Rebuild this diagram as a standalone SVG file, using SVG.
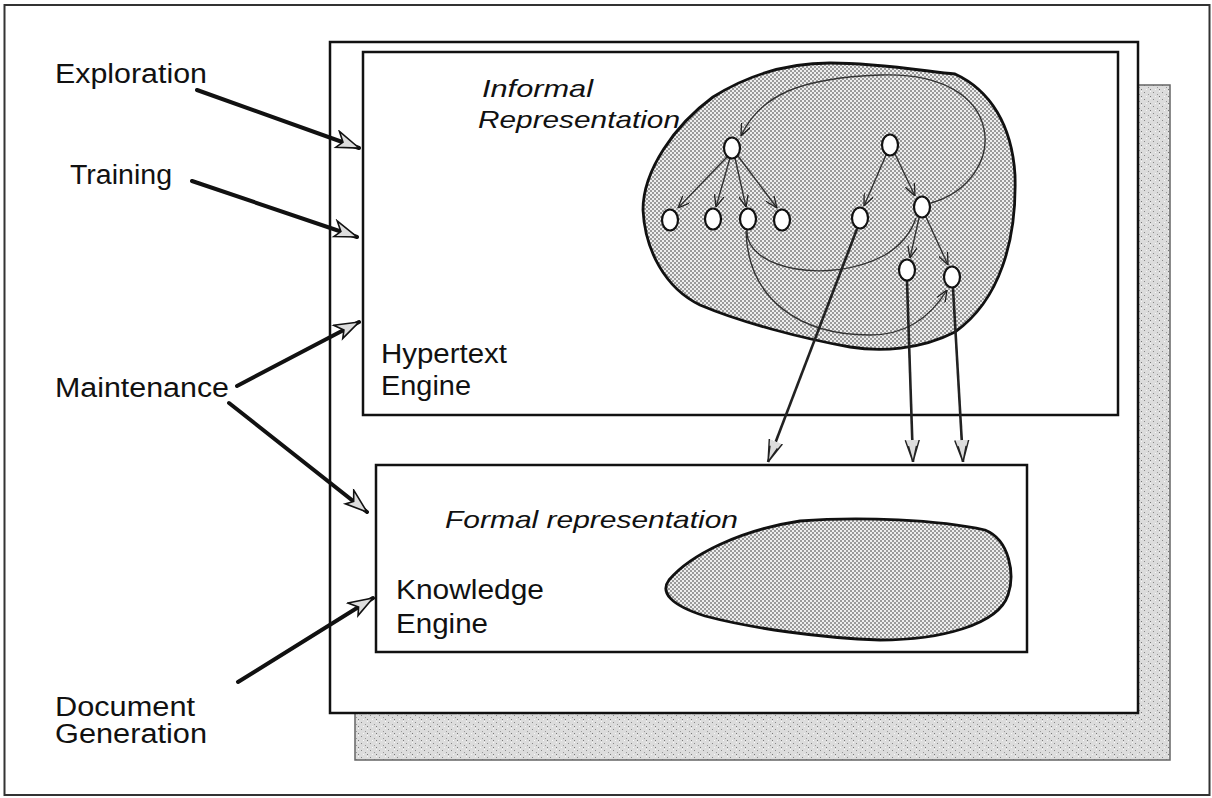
<svg xmlns="http://www.w3.org/2000/svg" width="1212" height="798" viewBox="0 0 1212 798">
<style>
.box{fill:#fff;stroke:#111;stroke-width:2.5}
.lbl{font-family:"Liberation Sans",Arial,sans-serif;font-size:27px;fill:#111}
.hand{font-family:"Liberation Sans",Arial,sans-serif;font-style:italic;font-size:24px;fill:#111}
.node{fill:#fff;stroke:#111;stroke-width:2.2}
.thin{fill:none;stroke:#333;stroke-width:1.4}
.thick{fill:none;stroke:#111;stroke-width:4;stroke-linecap:round}
.long{fill:none;stroke:#222;stroke-width:2.6}
.blob{stroke:#111;stroke-width:2.8;fill:url(#stip)}
</style>
<defs>
<pattern id="stip" width="4" height="4" patternUnits="userSpaceOnUse">
<rect width="4" height="4" fill="#eeeeee"/>
<rect x="0" y="0" width="2" height="2" fill="#9a9a9a"/>
<rect x="2" y="2" width="2" height="2" fill="#9a9a9a"/>
</pattern>
<pattern id="shade" width="9" height="7" patternUnits="userSpaceOnUse">
<rect width="9" height="7" fill="#dcdcdc"/>
<rect x="1" y="1" width="1" height="1" fill="#888"/>
<rect x="5" y="3" width="1" height="1" fill="#999"/>
<rect x="3" y="5" width="1" height="1" fill="#f8f8f8"/>
<rect x="7" y="0" width="1" height="1" fill="#f8f8f8"/>
<rect x="7" y="5" width="1" height="1" fill="#777"/>
</pattern>
<marker id="v" viewBox="0 0 12 10" refX="12" refY="5" markerWidth="12" markerHeight="10" markerUnits="userSpaceOnUse" orient="auto">
<path d="M0,0 L12,5 L0,10" fill="none" stroke="#222" stroke-width="1.3"/>
</marker>
<marker id="big" viewBox="0 0 26 20" refX="26" refY="10" markerWidth="26" markerHeight="20" markerUnits="userSpaceOnUse" orient="auto">
<path d="M2,1 L26,10 L4,17 L9,10 Z" fill="#ddd" stroke="#111" stroke-width="1.6"/>
</marker>
<marker id="down" viewBox="0 0 22 16" refX="22" refY="8" markerWidth="22" markerHeight="16" markerUnits="userSpaceOnUse" orient="auto">
<path d="M0,1 L22,8 L0,15 M6,4 L22,8 L6,12" fill="#ddd" stroke="#222" stroke-width="1.4"/>
</marker>
</defs>

<g id="frame">
<rect x="4.5" y="5" width="1205" height="790" fill="#fff" stroke="#333" stroke-width="2"/>
</g>

<g id="shadow">
<path d="M1138,85 H1170 V760 H355 V713 H1138 Z" fill="url(#shade)" stroke="#666" stroke-width="1.5"/>
</g>

<g id="system-box">
<rect class="box" x="330" y="42" width="808" height="671"/>
</g>

<g id="hypertext-engine">
<rect class="box" x="363" y="52" width="755" height="363"/>
<text class="lbl" x="381" y="363" textLength="126" lengthAdjust="spacingAndGlyphs">Hypertext</text>
<text class="lbl" x="381" y="395" textLength="90" lengthAdjust="spacingAndGlyphs">Engine</text>
</g>

<g id="knowledge-engine">
<rect class="box" x="376" y="465" width="651" height="187"/>
<text class="lbl" x="396" y="599" textLength="148" lengthAdjust="spacingAndGlyphs">Knowledge</text>
<text class="lbl" x="396" y="633" textLength="92" lengthAdjust="spacingAndGlyphs">Engine</text>
</g>

<g id="informal-representation">
<path class="blob" d="M713,97 C740,80 780,63 830,63 C880,63 930,72 955,74 C990,90 1012,125 1015,175 C1017,240 1000,300 955,332 C920,350 880,352 850,347 C800,338 740,322 700,305 C665,288 645,250 643,210 C643,170 675,125 713,97 Z"/>
<text class="hand" x="482" y="97" textLength="111" lengthAdjust="spacingAndGlyphs">Informal</text>
<text class="hand" x="478" y="128" textLength="202" lengthAdjust="spacingAndGlyphs">Representation</text>
</g>

<g id="formal-representation">
<path class="blob" d="M669,580 C690,555 740,530 800,521 C860,516 940,520 985,530 C1010,540 1015,575 1008,595 C998,625 940,640 880,640 C820,638 750,628 705,616 C670,605 660,592 669,580 Z"/>
<text class="hand" x="445" y="528" textLength="293" lengthAdjust="spacingAndGlyphs">Formal representation</text>
</g>

<g id="labels">
<text class="lbl" x="55" y="83" textLength="152" lengthAdjust="spacingAndGlyphs">Exploration</text>
<text class="lbl" x="70" y="184" textLength="102" lengthAdjust="spacingAndGlyphs">Training</text>
<text class="lbl" x="55" y="397" textLength="174" lengthAdjust="spacingAndGlyphs">Maintenance</text>
<text class="lbl" x="55" y="716" textLength="140" lengthAdjust="spacingAndGlyphs">Document</text>
<text class="lbl" x="55" y="743" textLength="152" lengthAdjust="spacingAndGlyphs">Generation</text>
</g>

<g id="connectors">
<path class="thick" d="M197,90 L359,148" marker-end="url(#big)"/>
<path class="thick" d="M192,181 L357,237" marker-end="url(#big)"/>
<path class="thick" d="M237,386 L359,322" marker-end="url(#big)"/>
<path class="thick" d="M229,403 L367,512" marker-end="url(#big)"/>
<path class="thick" d="M238,682 L373,598" marker-end="url(#big)"/>

<path class="thin" d="M727,157 L678,208" marker-end="url(#v)"/>
<path class="thin" d="M730,158 L716,207" marker-end="url(#v)"/>
<path class="thin" d="M735,158 L746,207" marker-end="url(#v)"/>
<path class="thin" d="M738,156 L777,208" marker-end="url(#v)"/>
<path class="thin" d="M886,155 L864,206" marker-end="url(#v)"/>
<path class="thin" d="M895,154 L915,196" marker-end="url(#v)"/>
<path class="thin" d="M919,218 L910,258" marker-end="url(#v)"/>
<path class="thin" d="M926,217 L948,265" marker-end="url(#v)"/>
<path class="thin" d="M931,203 C1010,180 1010,70 880,75 C800,78 760,95 741,136" marker-end="url(#v)"/>
<path class="thin" d="M747,230 C745,270 830,285 885,255 C903,244 912,230 916,218"/>
<path class="thin" d="M746,231 C748,300 800,335 870,335 C905,335 930,318 947,290" marker-end="url(#v)"/>

<path class="long" d="M857,229 L768,462" marker-end="url(#down)"/>
<path class="long" d="M907,281 L913,462" marker-end="url(#down)"/>
<path class="long" d="M953,288 L963,462" marker-end="url(#down)"/>
</g>

<g id="nodes">
<ellipse id="n1" class="node" cx="732" cy="148" rx="8" ry="10.5"/>
<ellipse id="n2" class="node" cx="670" cy="220" rx="8" ry="10.5"/>
<ellipse id="n3" class="node" cx="713" cy="219" rx="8" ry="10.5"/>
<ellipse id="n4" class="node" cx="748" cy="219" rx="8" ry="10.5"/>
<ellipse id="n5" class="node" cx="782" cy="220" rx="8" ry="10.5"/>
<ellipse id="n6" class="node" cx="860" cy="218" rx="8" ry="10.5"/>
<ellipse id="n7" class="node" cx="890" cy="145" rx="8" ry="10.5"/>
<ellipse id="n8" class="node" cx="922" cy="207" rx="8" ry="10.5"/>
<ellipse id="n9" class="node" cx="907" cy="270" rx="8" ry="10.5"/>
<ellipse id="n10" class="node" cx="952" cy="277" rx="8" ry="10.5"/>
</g>
</svg>
